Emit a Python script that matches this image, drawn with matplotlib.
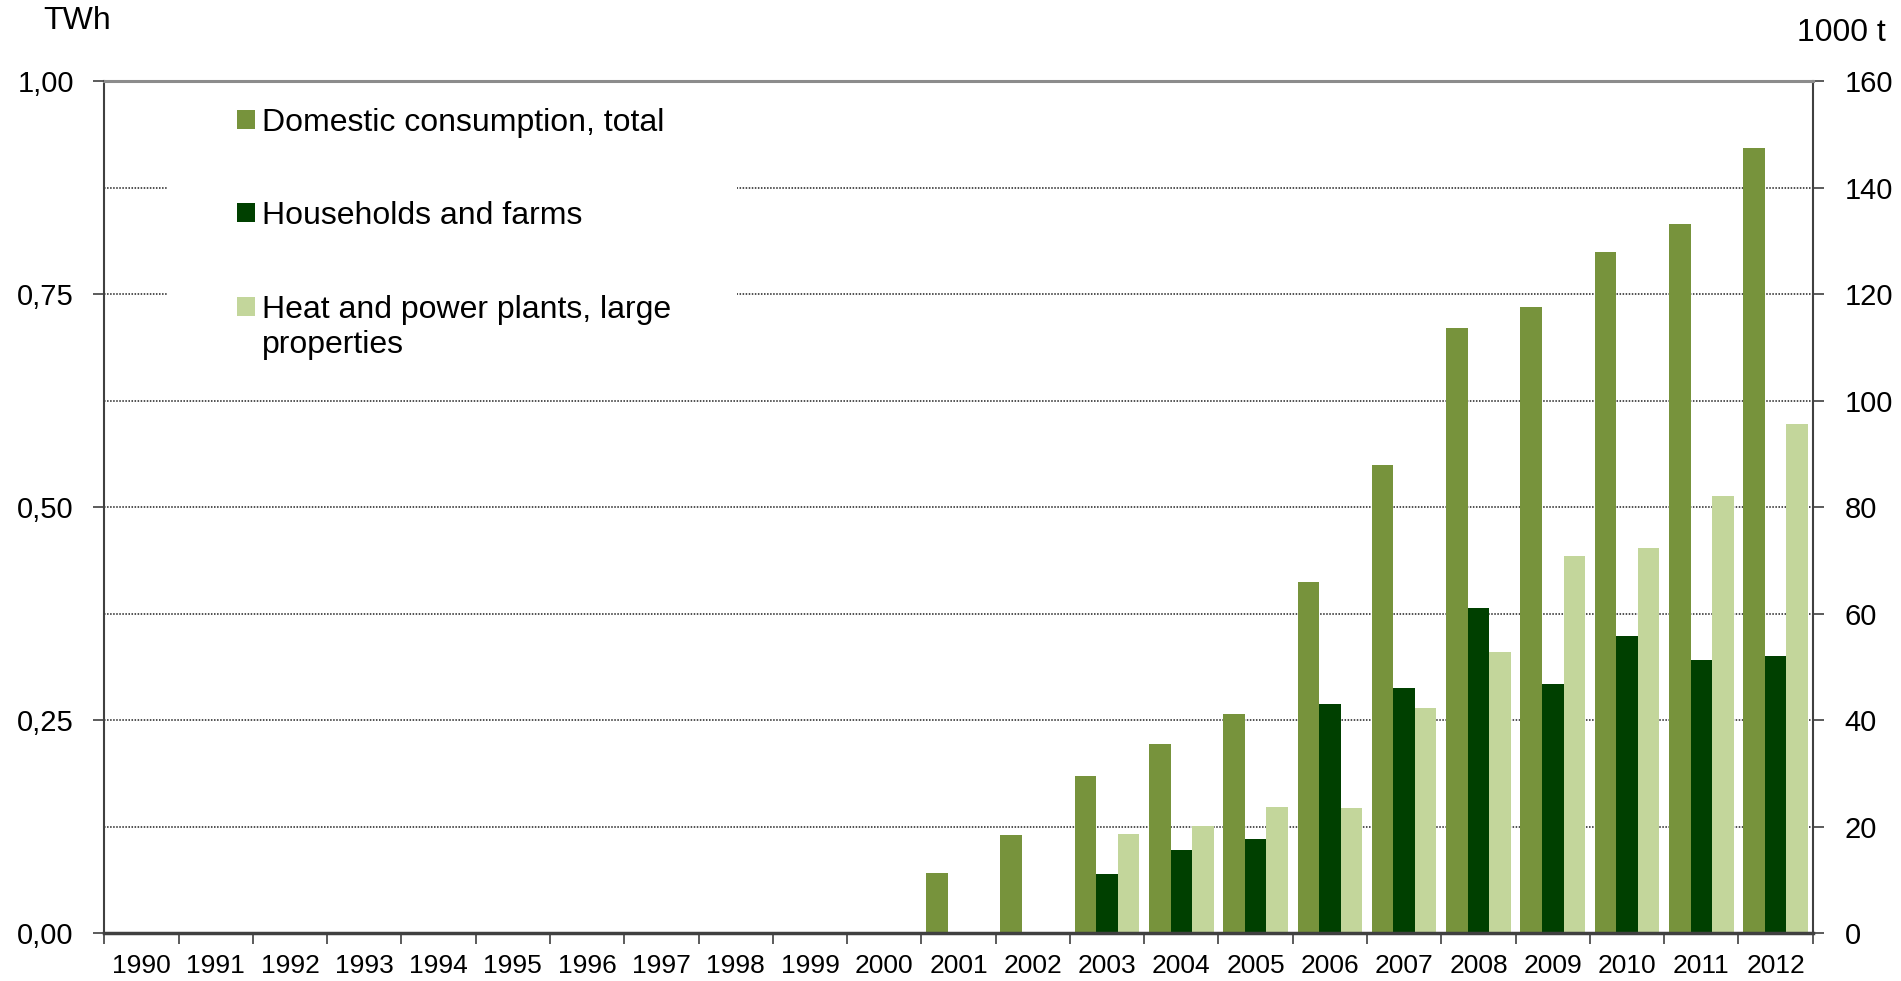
import matplotlib
matplotlib.use('Agg')
import matplotlib.pyplot as plt
from matplotlib.patches import Rectangle
import numpy as np

plt.rcParams['font.family'] = ['Liberation Sans', 'DejaVu Sans']

years = [str(y) for y in range(1990, 2013)]

# 1000 t (right axis); 0.125 TWh per 20 kt on the left axis
domestic = [0, 0, 0, 0, 0, 0, 0, 0, 0, 0, 0, 11.4, 18.4, 29.5, 35.5, 41.2,
            65.9, 87.9, 113.7, 117.5, 128.0, 133.2, 147.5]
households = [0, 0, 0, 0, 0, 0, 0, 0, 0, 0, 0, 0, 0, 11.1, 15.6, 17.7,
              43.0, 46.0, 61.0, 46.8, 55.8, 51.3, 52.1]
heat_power = [0, 0, 0, 0, 0, 0, 0, 0, 0, 0, 0, 0, 0, 18.6, 20.1, 23.8,
              23.5, 42.3, 52.8, 70.9, 72.4, 82.1, 95.6]

series_names = ['Domestic consumption, total', 'Households and farms',
                'Heat and power plants, large\nproperties']
colors = ['#77933C', '#004000', '#C3D69B']

right_ticks = [0, 20, 40, 60, 80, 100, 120, 140, 160]
left_ticks = [0.0, 0.25, 0.5, 0.75, 1.0]
left_labels = ['0,00', '0,25', '0,50', '0,75', '1,00']

fig = plt.figure(figsize=(19.01, 9.81), dpi=100)
ax = fig.add_axes([0.05487, 0.04842, 0.89869, 0.86901])
ax_l = ax.twinx()

x = np.arange(len(years))
w = 0.29
for k, (vals, c) in enumerate(zip([domestic, households, heat_power], colors)):
    ax.bar(x + (k - 1) * w, vals, width=w, color=c, linewidth=0, zorder=2)

ax.set_xlim(-0.5, len(years) - 0.5)
ax.set_ylim(0, 160)

# x axis: ticks on category borders, labels in the middle
ax.set_xticks(np.arange(-0.5, len(years), 1))
ax.set_xticklabels([])
ax.set_xticks(x, minor=True)
ax.set_xticklabels(years, minor=True, fontsize=19)
ax.tick_params(axis='x', which='major', direction='out', length=8, width=1.2, color='#404040')
ax.tick_params(axis='x', which='minor', length=0, pad=15)

# right axis (1000 t)
ax.yaxis.tick_right()
ax.set_yticks(right_ticks)
ax.set_yticklabels([str(t) for t in right_ticks], fontsize=21)
ax.tick_params(axis='y', direction='out', length=8, width=1.2, color='#404040', pad=15)

ax.set_axisbelow(True)
for t in right_ticks[1:-1]:
    ax.axhline(t, color='#202020', linestyle=(0, (1, 1)), linewidth=1.1, zorder=0.5)

ax.spines['top'].set_color('#8c8c8c')
ax.spines['top'].set_linewidth(2.2)
ax.spines['bottom'].set_color('#404040')
ax.spines['bottom'].set_linewidth(2.5)
for s in ['left', 'right']:
    ax.spines[s].set_color('#404040')
    ax.spines[s].set_linewidth(1.5)

# left axis (TWh)
ax_l.yaxis.tick_left()
ax_l.set_ylim(0, 1.0)
ax_l.set_yticks(left_ticks)
ax_l.set_yticklabels(left_labels, fontsize=21)
ax_l.tick_params(axis='y', direction='out', length=8, width=1.2, color='#404040', pad=14)
for s in ax_l.spines.values():
    s.set_visible(False)

# legend block (white box over the gridlines)
ax.add_patch(Rectangle((0.0367, 0.661), 0.3336, 0.32, transform=ax.transAxes,
                       facecolor='white', edgecolor='none', zorder=1))
row_base = [0.9413, 0.8323, 0.7220]
last_base = [0.9413, 0.8323, 0.6809]
for name, c, yb, yt in zip(series_names, colors, row_base, last_base):
    ax.add_patch(Rectangle((0.0777, yb + 0.0023), 0.01054, 0.0223, transform=ax.transAxes,
                           facecolor=c, edgecolor='none', zorder=3))
    ax.text(0.0924, yt, name, transform=ax.transAxes, fontsize=23,
            va='baseline', ha='left', linespacing=1.2, zorder=3)

fig.text(77 / 1901, 1 - 21 / 981, 'TWh', ha='center', va='center', fontsize=23)
fig.text(1841 / 1901, 1 - 33 / 981, '1000 t', ha='center', va='center', fontsize=23)

fig.savefig('out.png', dpi=100)
